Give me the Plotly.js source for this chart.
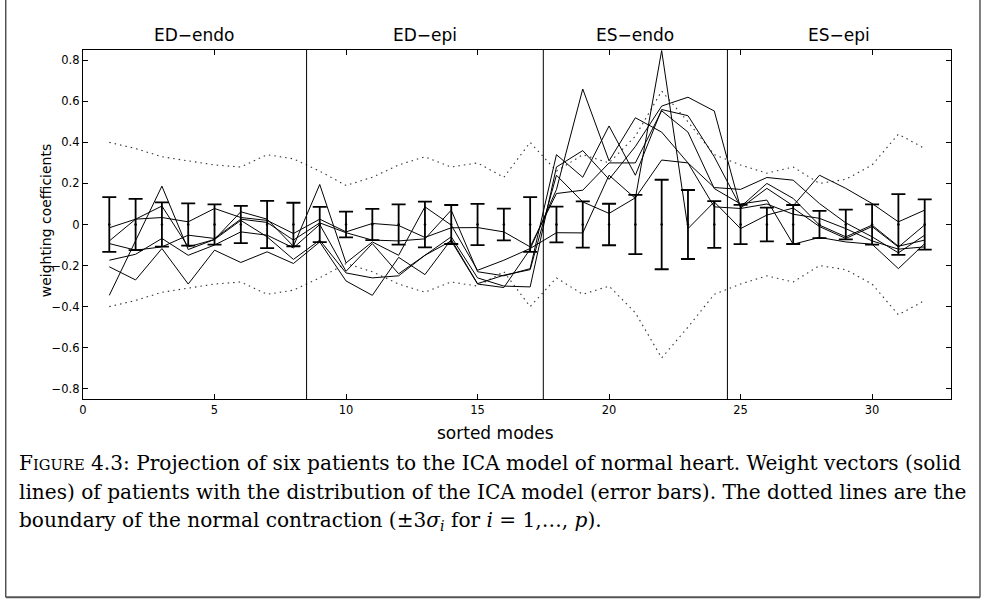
<!DOCTYPE html>
<html>
<head>
<meta charset="utf-8">
<script src="https://cdn.plot.ly/plotly-3.0.1.min.js"></script>
<style>html,body{margin:0;padding:0;background:#fff;}#chart{width:985px;height:609px;}</style>
</head>
<body>
<div id="chart"></div>
<script>
// sorted modes 1..32
const modes = [1,2,3,4,5,6,7,8,9,10,11,12,13,14,15,16,17,18,19,20,21,22,23,24,25,26,27,28,29,30,31,32];
// ICA model mean and one-sigma spread (error bars)
const modelMean = [0,0,0,0,0,0,0,0,0,0,0,0,0,0,0,0,0,0,0,0,0,0,0,0,0,0,0,0,0,0,0,0];
const modelSigma = [0.133,0.125,0.108,0.103,0.098,0.091,0.115,0.106,0.086,0.063,0.076,0.098,0.111,0.095,0.1,0.077,0.133,0.087,0.113,0.101,0.144,0.218,0.168,0.114,0.096,0.082,0.095,0.066,0.072,0.098,0.148,0.122];
// dotted boundaries of the normal contraction (+/- 3 sigma)
const upperBound = [0.40,0.37,0.33,0.31,0.29,0.28,0.34,0.32,0.26,0.19,0.23,0.29,0.33,0.28,0.30,0.23,0.40,0.26,0.34,0.30,0.43,0.65,0.50,0.34,0.29,0.25,0.28,0.20,0.22,0.29,0.44,0.37];
const lowerBound = [-0.40,-0.37,-0.33,-0.31,-0.29,-0.28,-0.34,-0.32,-0.26,-0.19,-0.23,-0.29,-0.33,-0.28,-0.30,-0.23,-0.40,-0.26,-0.34,-0.30,-0.43,-0.65,-0.50,-0.34,-0.29,-0.25,-0.28,-0.20,-0.22,-0.29,-0.44,-0.37];
// weight vectors of six patients
const patient1 = [-0.345,-0.078,0.187,-0.122,-0.073,0.02,-0.06,-0.17,-0.076,-0.236,-0.26,-0.25,-0.15,-0.08,-0.29,-0.307,-0.12,0.17,0.66,0.31,0.52,0.45,0.30,0.18,0.171,0.229,0.216,0.102,0.008,-0.06,-0.138,-0.052];
const patient2 = [-0.093,-0.125,-0.109,-0.052,-0.068,0.026,0.01,-0.076,0.008,-0.04,-0.076,-0.08,-0.07,0.07,-0.23,-0.25,-0.215,0.34,0.23,0.48,0.24,0.56,0.53,0.33,0.086,0.2,0.127,-0.003,-0.06,-0.003,-0.106,-0.076];
const patient3 = [-0.174,-0.145,-0.068,-0.15,-0.1,-0.036,-0.052,-0.114,0,-0.228,-0.093,-0.24,-0.15,-0.06,-0.26,-0.3,-0.304,0.28,0.36,0.22,0.38,0.577,0.62,0.553,0.08,0.176,0.091,0.24,0.176,0.102,0.013,0.07];
const patient4 = [-0.016,0.026,0.034,0.013,0.078,0.034,0.02,-0.044,0.026,-0.036,0.005,-0.005,-0.063,-0.016,-0.015,-0.036,-0.109,0.151,0.167,0.3,0.3,0.554,0.45,0.175,0.1,0.119,-0.096,-0.063,-0.085,-0.096,-0.215,-0.093];
const patient5 = [-0.08,0.026,0.09,-0.109,-0.073,0.062,0.026,-0.106,0.195,-0.187,-0.085,-0.15,0.086,-0.003,-0.223,-0.174,-0.117,-0.04,-0.041,0.24,0.127,0.847,-0.02,0.11,-0.02,0.046,0.08,-0.01,-0.068,-0.01,-0.11,-0.002];
const patient6 = [-0.206,-0.27,-0.117,-0.29,-0.125,-0.185,-0.133,-0.19,-0.085,-0.275,-0.345,-0.16,-0.244,-0.073,-0.288,-0.247,-0.22,0.24,0.11,0.054,0.13,0.314,0.3,0.086,0.078,0.1,0.05,0.03,-0.02,-0.08,-0.12,-0.109];
const patients = [patient1, patient2, patient3, patient4, patient5, patient6];
// region separators and names
const sectionBreaks = [8.5, 17.5, 24.5];
const sectionNames = ['ED\u2212endo', 'ED\u2212epi', 'ES\u2212endo', 'ES\u2212epi'];
const sectionCenters = [4.25, 13, 21, 28.75];
const xTicks = [0,5,10,15,20,25,30];
const yTicks = [-0.8,-0.6,-0.4,-0.2,0,0.2,0.4,0.6,0.8];
const captionLines = [
  'F<span style="font-size:14.7px">IGURE</span> 4.3: Projection of six patients to the ICA model of normal heart. Weight vectors (solid',
  'lines) of patients with the distribution of the ICA model (error bars). The dotted lines are the',
  'boundary of the normal contraction (±3<i>σ</i><sub><i>i</i></sub> for <i>i</i> = 1,…, <i>p</i>).'
];

const traces = [];
const dotLine = {color: '#333', width: 1.1, dash: '1.5px,4px'};
traces.push({x: modes, y: upperBound, mode: 'lines', line: dotLine, hoverinfo: 'skip'});
traces.push({x: modes, y: lowerBound, mode: 'lines', line: dotLine, hoverinfo: 'skip'});
traces.push({x: modes, y: modelMean, mode: 'markers', marker: {color: '#000', size: 2.5},
  error_y: {type: 'data', array: modelSigma, visible: true, color: '#000', thickness: 1.8, width: 7}});
patients.forEach(p => traces.push({x: modes, y: p, mode: 'lines', line: {color: '#000', width: 1}}));

const W = 985, H = 609;
const L = 82.7, R = 951, T = 49.7, B = 399.3;
const px = v => (v - L) / (R - L);
const py = v => (B - v) / (B - T);

const shapes = sectionBreaks.map(b => ({type: 'line', xref: 'x', yref: 'paper', x0: b, x1: b, y0: 0, y1: 1, line: {color: '#000', width: 1}}));
shapes.push({type: 'line', xref: 'paper', yref: 'paper', x0: px(5.5), x1: px(5.5), y0: py(-5), y1: py(598), line: {color: '#000', width: 1}});
shapes.push({type: 'line', xref: 'paper', yref: 'paper', x0: px(980), x1: px(980), y0: py(-5), y1: py(598), line: {color: '#000', width: 1}});
shapes.push({type: 'line', xref: 'paper', yref: 'paper', x0: px(5.5), x1: px(980), y0: py(598), y1: py(598), line: {color: '#555', width: 2}});

const sansFont = 'DejaVu Sans, Liberation Sans, Arial';
const annotations = [];
sectionNames.forEach((n, i) => annotations.push({text: n, x: sectionCenters[i], xref: 'x', y: py(35), yref: 'paper', showarrow: false, xanchor: 'center', yanchor: 'middle', font: {family: sansFont, size: 17, color: '#000'}}));
annotations.push({text: 'sorted modes', x: px(495), xref: 'paper', y: py(433), yref: 'paper', showarrow: false, xanchor: 'center', yanchor: 'middle', font: {family: sansFont, size: 17, color: '#000'}});
annotations.push({text: 'weighting coefficients', x: px(46), xref: 'paper', y: py(220), yref: 'paper', showarrow: false, textangle: -90, xanchor: 'center', yanchor: 'middle', font: {family: sansFont, size: 14, color: '#000'}});
captionLines.forEach((t, i) => annotations.push({text: t, x: px(17), xref: 'paper', y: py(463 + i * 29.5), yref: 'paper', showarrow: false, xanchor: 'left', yanchor: 'middle', align: 'left', font: {family: 'DejaVu Serif, Liberation Serif', size: 20.1, color: '#000'}}));

const axisCommon = {ticks: 'inside', ticklen: 5, tickcolor: '#000', mirror: 'ticks', showline: true, linecolor: '#000', linewidth: 1.2, showgrid: false, zeroline: false, tickfont: {family: sansFont, size: 11.5, color: '#000'}};
const layout = {
  width: W, height: H,
  margin: {l: L, r: W - R, t: T, b: H - B, pad: 0},
  paper_bgcolor: '#fff', plot_bgcolor: '#fff',
  showlegend: false,
  xaxis: Object.assign({range: [0, 33], tickvals: xTicks}, axisCommon),
  yaxis: Object.assign({range: [-0.85, 0.85], tickvals: yTicks, ticksuffix: '\u00a0\u00a0'}, axisCommon),
  shapes: shapes,
  annotations: annotations
};
Plotly.newPlot('chart', traces, layout, {staticPlot: true, displayModeBar: false});
</script>
</body>
</html>
